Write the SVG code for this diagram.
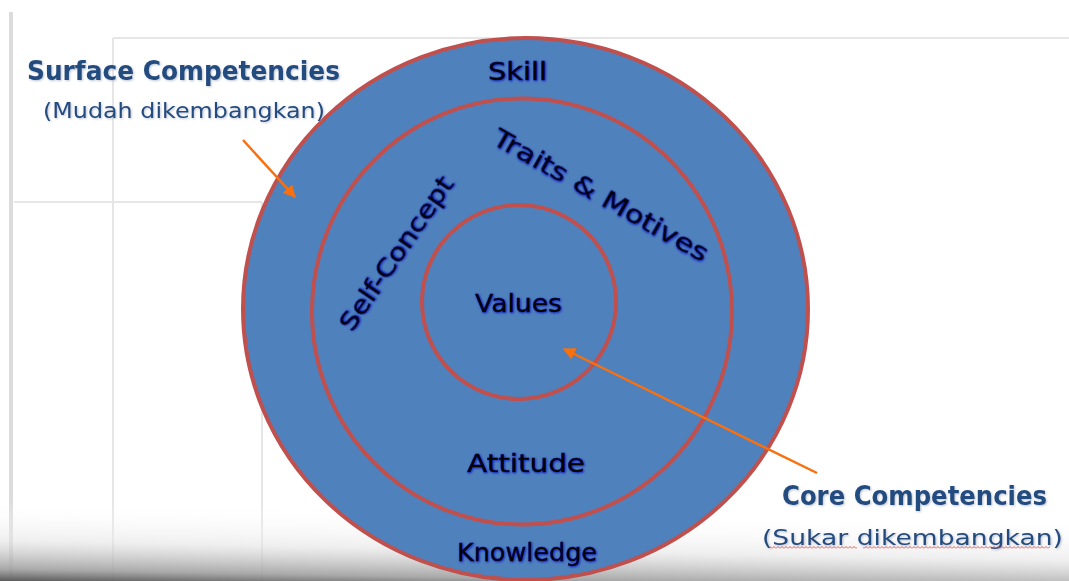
<svg xmlns="http://www.w3.org/2000/svg" width="1069" height="581" viewBox="0 0 1069 581">
  <defs>
    <style>
      .ring { fill: #4F81BD; stroke: #C0504D; stroke-width: 4; }
      .lbl { font-family: "DejaVu Sans", "Liberation Sans", sans-serif; font-size: 25px; fill: #000; stroke: #000; stroke-width: 0.4; filter: url(#blueglow); }
      .cap { font-family: "DejaVu Sans", "Liberation Sans", sans-serif; fill: #244C80; filter: url(#soft); }
      .capb { font-size: 26px; font-weight: bold; }
      .caps { font-size: 22px; }
      .grid { stroke: #e6e6e6; stroke-width: 2; fill: none; }
      .conn { stroke: #F9700F; stroke-width: 2.5; fill: none; marker-end: url(#ah); }
    </style>
    <filter id="blueglow" x="-10%" y="-30%" width="120%" height="160%">
      <feDropShadow dx="0.8" dy="0.8" stdDeviation="0.8" flood-color="#0010c8" flood-opacity="0.9"/>
    </filter>
    <filter id="soft" x="-10%" y="-30%" width="120%" height="160%">
      <feDropShadow dx="1" dy="1" stdDeviation="1" flood-color="#7a8aa0" flood-opacity="0.5"/>
    </filter>
    <marker id="ah" viewBox="0 0 10 10" refX="9" refY="5" markerWidth="5" markerHeight="5" orient="auto" markerUnits="strokeWidth">
      <path d="M0,0 L10,5 L0,10 z" fill="#F9700F"/>
    </marker>
    <linearGradient id="shade" gradientUnits="userSpaceOnUse" x1="0" y1="500" x2="-1.5" y2="581">
      <stop offset="0" stop-color="#ffffff" stop-opacity="0"/>
      <stop offset="0.5" stop-color="#e4e4e4" stop-opacity="0.6"/>
      <stop offset="0.85" stop-color="#a0a0a0" stop-opacity="0.9"/>
      <stop offset="1" stop-color="#5a5a5a"/>
    </linearGradient>
    <pattern id="wavy" width="4" height="3" patternUnits="userSpaceOnUse">
      <polyline points="0,2.5 2,0.5 4,2.5" fill="none" stroke="#E04848" stroke-width="0.9"/>
    </pattern>
  </defs>

  <rect width="1069" height="581" fill="#ffffff"/>

  <g id="background-frame">
    <line x1="11" y1="12" x2="11" y2="581" stroke="#dcdcdc" stroke-width="4"/>
    <line class="grid" x1="113" y1="38" x2="113" y2="581"/>
    <line class="grid" x1="113" y1="38" x2="1069" y2="38" stroke="#eeeeee"/>
    <line class="grid" x1="14" y1="202" x2="262" y2="202"/>
    <line class="grid" x1="262" y1="202" x2="262" y2="581"/>
  </g>
  <rect id="bottom-shade" x="0" y="490" width="1069" height="91" fill="url(#shade)"/>

  <g id="node-outer">
    <ellipse class="ring" cx="525.5" cy="309" rx="282.5" ry="271"/>
  </g>
  <g id="node-middle">
    <ellipse class="ring" cx="522" cy="311.5" rx="210" ry="213"/>
  </g>
  <g id="node-inner">
    <ellipse class="ring" cx="519" cy="302" rx="97" ry="97"/>
  </g>

  <g id="labels-rings">
    <text class="lbl" x="488" y="80" textLength="59" lengthAdjust="spacingAndGlyphs">Skill</text>
    <text class="lbl" transform="translate(491,143) rotate(29.5)" x="0" y="0" textLength="243" lengthAdjust="spacingAndGlyphs">Traits &amp; Motives</text>
    <text class="lbl" transform="translate(352,333) rotate(-55.5)" x="0" y="0" textLength="181" lengthAdjust="spacingAndGlyphs">Self-Concept</text>
    <text class="lbl" x="475" y="312" textLength="87" lengthAdjust="spacingAndGlyphs">Values</text>
    <text class="lbl" x="467" y="472" textLength="118" lengthAdjust="spacingAndGlyphs">Attitude</text>
    <text class="lbl" x="457" y="561" textLength="140" lengthAdjust="spacingAndGlyphs">Knowledge</text>
  </g>

  <g id="node-surface">
    <text class="cap capb" x="27" y="80" textLength="313" lengthAdjust="spacingAndGlyphs">Surface Competencies</text>
    <text class="cap caps" x="43" y="118" textLength="282" lengthAdjust="spacingAndGlyphs">(Mudah dikembangkan)</text>
  </g>

  <g id="node-core">
    <text class="cap capb" x="782" y="505" textLength="265" lengthAdjust="spacingAndGlyphs">Core Competencies</text>
    <text class="cap caps" x="762" y="545" textLength="301" lengthAdjust="spacingAndGlyphs">(Sukar dikembangkan)</text>
    <rect x="770" y="546" width="87" height="3" fill="url(#wavy)"/>
    <rect x="863" y="546" width="187" height="3" fill="url(#wavy)"/>
  </g>

  <g id="connectors">
    <line class="conn" x1="243" y1="140" x2="295" y2="197"/>
    <line class="conn" x1="817" y1="473" x2="564" y2="349"/>
  </g>
</svg>
